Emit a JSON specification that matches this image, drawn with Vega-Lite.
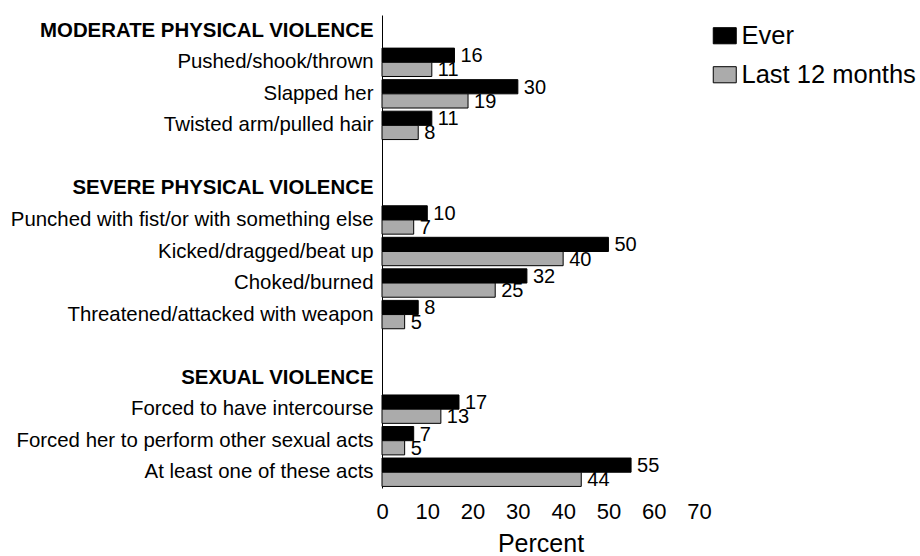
{
  "$schema": "https://vega.github.io/schema/vega-lite/v6.json",
  "autosize": {"type": "none"},
  "padding": {"left": 382, "top": 15, "right": 221, "bottom": 68},
  "width": 317,
  "height": 473,
  "background": "white",
  "config": {
    "font": "Liberation Sans",
    "view": {"stroke": null}
  },
  "data": {
    "values": [
      {"item": "Pushed/shook/thrown", "series": "Ever", "value": 16},
      {"item": "Pushed/shook/thrown", "series": "Last 12 months", "value": 11},
      {"item": "Slapped her", "series": "Ever", "value": 30},
      {"item": "Slapped her", "series": "Last 12 months", "value": 19},
      {"item": "Twisted arm/pulled hair", "series": "Ever", "value": 11},
      {"item": "Twisted arm/pulled hair", "series": "Last 12 months", "value": 8},
      {"item": "Punched with fist/or with something else", "series": "Ever", "value": 10},
      {"item": "Punched with fist/or with something else", "series": "Last 12 months", "value": 7},
      {"item": "Kicked/dragged/beat up", "series": "Ever", "value": 50},
      {"item": "Kicked/dragged/beat up", "series": "Last 12 months", "value": 40},
      {"item": "Choked/burned", "series": "Ever", "value": 32},
      {"item": "Choked/burned", "series": "Last 12 months", "value": 25},
      {"item": "Threatened/attacked with weapon", "series": "Ever", "value": 8},
      {"item": "Threatened/attacked with weapon", "series": "Last 12 months", "value": 5},
      {"item": "Forced to have intercourse", "series": "Ever", "value": 17},
      {"item": "Forced to have intercourse", "series": "Last 12 months", "value": 13},
      {"item": "Forced her to perform other sexual acts", "series": "Ever", "value": 7},
      {"item": "Forced her to perform other sexual acts", "series": "Last 12 months", "value": 5},
      {"item": "At least one of these acts", "series": "Ever", "value": 55},
      {"item": "At least one of these acts", "series": "Last 12 months", "value": 44}
    ]
  },
  "encoding": {
    "y": {
      "field": "item",
      "type": "nominal",
      "title": null,
      "scale": {
        "domain": [
          "MODERATE PHYSICAL VIOLENCE",
          "Pushed/shook/thrown",
          "Slapped her",
          "Twisted arm/pulled hair",
          " ",
          "SEVERE PHYSICAL VIOLENCE",
          "Punched with fist/or with something else",
          "Kicked/dragged/beat up",
          "Choked/burned",
          "Threatened/attacked with weapon",
          "  ",
          "SEXUAL VIOLENCE",
          "Forced to have intercourse",
          "Forced her to perform other sexual acts",
          "At least one of these acts"
        ],
        "paddingInner": 0.1,
        "paddingOuter": 0.05
      },
      "axis": {
        "domain": true,
        "domainColor": "#000000",
        "domainWidth": 1,
        "ticks": false,
        "tickSize": 0,
        "labelPadding": 9,
        "labelFontSize": 20.4,
        "labelColor": "#000000",
        "labelLimit": 500,
        "labelFontWeight": {
          "condition": {
            "test": "indexof(['MODERATE PHYSICAL VIOLENCE','SEVERE PHYSICAL VIOLENCE','SEXUAL VIOLENCE'], datum.value) >= 0",
            "value": "bold"
          },
          "value": "normal"
        }
      }
    },
    "yOffset": {
      "field": "series",
      "type": "nominal",
      "scale": {"domain": ["Ever", "Last 12 months"]}
    },
    "x": {
      "field": "value",
      "type": "quantitative",
      "title": "Percent",
      "scale": {"domain": [0, 70], "nice": false},
      "axis": {
        "values": [0, 10, 20, 30, 40, 50, 60, 70],
        "domain": false,
        "ticks": false,
        "tickSize": 0,
        "grid": false,
        "labelFlush": false,
        "labelOverlap": false,
        "labelFontSize": 22,
        "labelColor": "#000000",
        "labelPadding": 13,
        "titleFontSize": 25,
        "titleFontWeight": "normal",
        "titleColor": "#000000",
        "titlePadding": 9
      }
    }
  },
  "layer": [
    {
      "mark": {"type": "bar", "stroke": "#000000", "strokeWidth": 1},
      "encoding": {
        "fill": {
          "field": "series",
          "type": "nominal",
          "scale": {"domain": ["Ever", "Last 12 months"], "range": ["#000000", "#ababab"]},
          "legend": {
            "title": null,
            "orient": "none",
            "legendX": 330,
            "legendY": 8,
            "symbolType": "M-1,-0.7L1,-0.7L1,0.7L-1,0.7Z",
            "symbolSize": 529,
            "symbolStrokeColor": "#000000",
            "symbolStrokeWidth": 1,
            "labelFontSize": 25.5,
            "labelColor": "#000000",
            "labelOffset": 4,
            "rowPadding": 12,
            "labelLimit": 400
          }
        }
      }
    },
    {
      "mark": {"type": "text", "align": "left", "baseline": "middle", "dx": 6, "dy": 1, "fontSize": 20, "color": "#000000"},
      "encoding": {
        "text": {"field": "value", "type": "quantitative"}
      }
    }
  ]
}
